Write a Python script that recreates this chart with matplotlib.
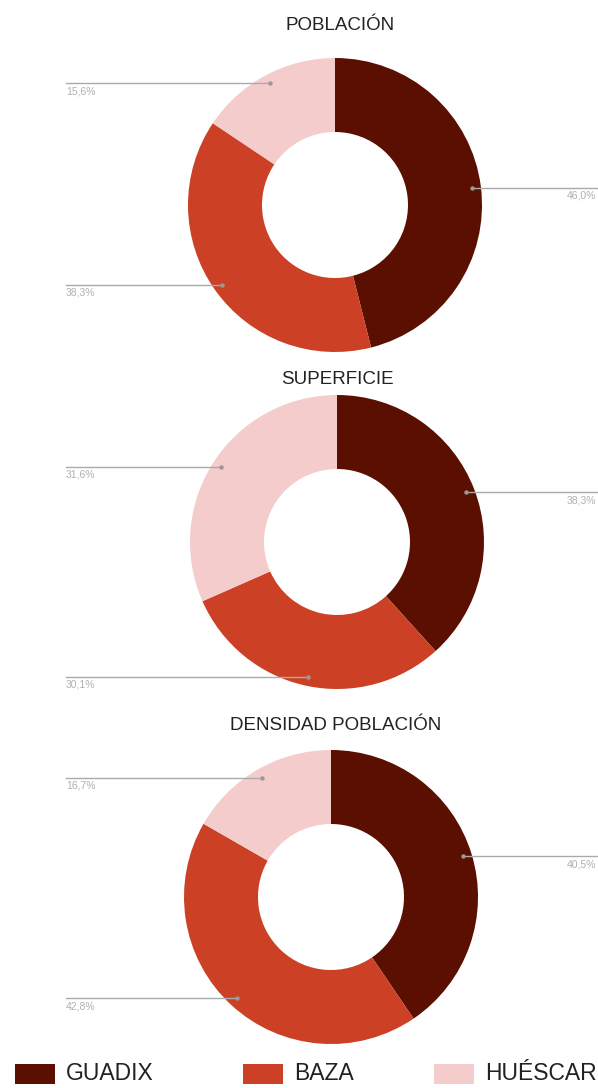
import numpy as np
import matplotlib
matplotlib.use("Agg")
import matplotlib.pyplot as plt
from matplotlib.patches import Rectangle

plt.rcParams['font.family'] = ['Liberation Sans', 'DejaVu Sans']

# ---------------------------------------------------------------
# data
# ---------------------------------------------------------------
cities     = ["GUADIX", "BAZA", "HUÉSCAR"]
colors     = ["#5b0f00", "#cc4125", "#f4cccc"]
titles     = ["POBLACIÓN", "SUPERFICIE", "DENSIDAD POBLACIÓN"]
poblacion  = [46.0, 38.3, 15.6]
superficie = [38.3, 30.1, 31.6]
densidad   = [40.5, 42.8, 16.7]
series     = [poblacion, superficie, densidad]

# ---------------------------------------------------------------
# layout (pixel coords, y from top)
# ---------------------------------------------------------------
W, H = 598, 1088
centers  = [(335, 205), (337, 542), (331, 897)]
title_xy = [(340, 25), (337, 379), (336, 725)]
R_OUT, R_IN, R_LBL = 147, 73, 138
LEFT_X, RIGHT_X = 66, 598

fig = plt.figure(figsize=(W / 100, H / 100), dpi=100)
ax = fig.add_axes([0, 0, 1, 1])

def fy(y):
    return H - y

for vals, (cx, cy), title, (tx, ty) in zip(series, centers, titles, title_xy):
    ax.pie(vals, colors=colors, startangle=90, counterclock=False,
           center=(cx, fy(cy)), radius=R_OUT,
           wedgeprops=dict(width=R_OUT - R_IN, linewidth=0))
    ax.text(tx, fy(ty), title, ha='center', va='center', fontsize=13.5, color='#222222')

    total = sum(vals)
    cum = 0.0
    for v in vals:
        mid = (cum + v / 2) / total * 2 * np.pi
        cum += v
        px = cx + R_LBL * np.sin(mid)
        py = cy - R_LBL * np.cos(mid)
        lbl = f"{v:.1f}%".replace(".", ",")
        if px > cx:
            ax.plot([px, RIGHT_X], [fy(py), fy(py)], color='#aaaaaa', lw=1, zorder=3)
            ax.text(RIGHT_X - 2, fy(py + 3), lbl, ha='right', va='top',
                    fontsize=7.5, color='#b0b0b0')
        else:
            ax.plot([LEFT_X, px], [fy(py), fy(py)], color='#aaaaaa', lw=1, zorder=3)
            ax.text(LEFT_X, fy(py + 3), lbl, ha='left', va='top',
                    fontsize=7.5, color='#b0b0b0')
        ax.plot([px], [fy(py)], 'o', color='#999999', ms=2.2, zorder=4)

# legend at bottom
leg_x = [15, 243, 434]
for x, name, c in zip(leg_x, cities, colors):
    ax.add_patch(Rectangle((x, fy(1084)), 40, 20, facecolor=c, edgecolor='none'))
    ax.text(x + 51, fy(1074), name, ha='left', va='center', fontsize=16.5, color='#222222')

ax.set_xlim(0, W)
ax.set_ylim(0, H)
ax.set_aspect('auto')
ax.axis('off')

fig.savefig("out.png", dpi=100)
